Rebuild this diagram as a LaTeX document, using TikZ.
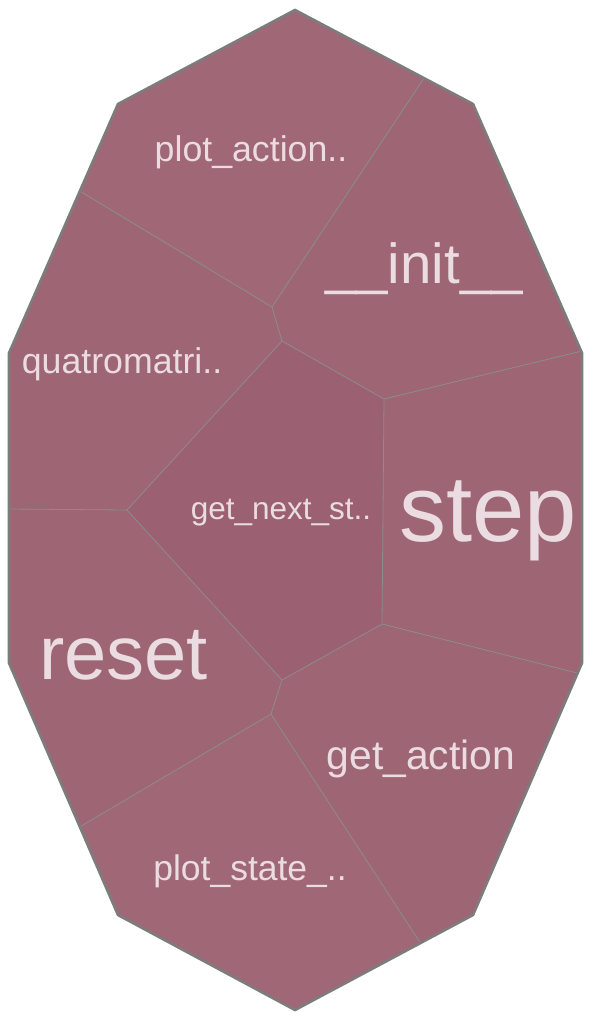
\documentclass[tikz,border=0pt]{standalone}
\usepackage{fontspec}
\usetikzlibrary{calc}
\setmainfont{Liberation Sans}
\definecolor{cellA}{HTML}{9E6575}
\definecolor{cellLight}{HTML}{A06877}
\definecolor{cellDark}{HTML}{9B6172}
\definecolor{edgeGray}{HTML}{8C8C8C}
\definecolor{rimGray}{HTML}{7C7C7C}
\definecolor{labelCol}{HTML}{EADCE1}
\tikzset{
  cell/.style={fill=#1, draw=none},
  sep/.style={draw=edgeGray, line width=0.8pt},
  rim/.style={draw=rimGray, line width=2.6pt, line join=miter},
  lbl/.style={text=labelCol, inner sep=0pt, anchor=base},
}
\newcommand{\fs}[1]{\fontsize{#1}{#1}\selectfont}
\begin{document}
\begin{tikzpicture}[x=1pt,y=-1pt]
\useasboundingbox (0,0) rectangle (592,1020);
% outer vertices
\coordinate (T) at (295,10);
\coordinate (TR) at (473,104);
\coordinate (RU) at (582,353);
\coordinate (RL) at (582,663);
\coordinate (BR) at (473,915);
\coordinate (B) at (295,1010);
\coordinate (BL) at (118,915);
\coordinate (LL) at (9,663);
\coordinate (LU) at (9,353);
\coordinate (TL) at (118,104);
% boundary points
\coordinate (e1) at ($(T)!0.725!(TR)$);
\coordinate (e2) at ($(TL)!0.35!(LU)$);
\coordinate (e3) at (582,351);
\coordinate (e4) at (9,509);
\coordinate (e5) at ($(RL)!0.04!(BR)$);
\coordinate (e6) at ($(LL)!0.65!(BL)$);
\coordinate (e7) at ($(BR)!0.295!(B)$);
% inner vertices
\coordinate (v1) at (272,307);
\coordinate (v2) at (282,341);
\coordinate (v3) at (384,399);
\coordinate (v4) at (127,510);
\coordinate (v5) at (382,624);
\coordinate (v6) at (282,680);
\coordinate (v7) at (271,714);
% base
\fill[cell=cellA] (T) -- (TR) -- (RU) -- (RL) -- (BR) -- (B) -- (BL) -- (LL) -- (LU) -- (TL) -- cycle;
% cells with shade variation
\fill[cell=cellLight] (T) -- (e1) -- (v1) -- (e2) -- (TL) -- cycle; % plot_action
\fill[cell=cellDark] (v2) -- (v3) -- (v5) -- (v6) -- (v4) -- cycle; % get_next
\fill[cell=cellLight] (e6) -- (v7) -- (e7) -- (B) -- (BL) -- cycle; % plot_state
% separators
\draw[sep] (e1) -- (v1) -- (e2);
\draw[sep] (v1) -- (v2) -- (v4) -- (e4);
\draw[sep] (v2) -- (v3) -- (e3);
\draw[sep] (v3) -- (v5) -- (e5);
\draw[sep] (v4) -- (v6) -- (v5);
\draw[sep] (v6) -- (v7) -- (e6);
\draw[sep] (v7) -- (e7);
% rim
\draw[rim] (T) -- (TR) -- (RU) -- (RL) -- (BR) -- (B) -- (BL) -- (LL) -- (LU) -- (TL) -- cycle;
% labels
\node[lbl] (lpa) at (251,161) {\fs{35.7}plot\_action..};
\node[lbl] (lin) at (424,283) {\fs{56.4}\_\_init\_\_};
\node[lbl] (lqm) at (122,373) {\fs{35.7}quatromatri..};
\node[lbl] (lgn) at (281,519) {\fs{31.5}get\_next\_st..};
\node[lbl] (lst) at (488,541) {\fs{94}step};
\node[lbl] (lrs) at (123.5,679) {\fs{76}reset};
\node[lbl] (lga) at (421,769) {\fs{40.8}get\_action};
\node[lbl] (lps) at (250,880) {\fs{35.5}plot\_state\_..};
\end{tikzpicture}
\end{document}
